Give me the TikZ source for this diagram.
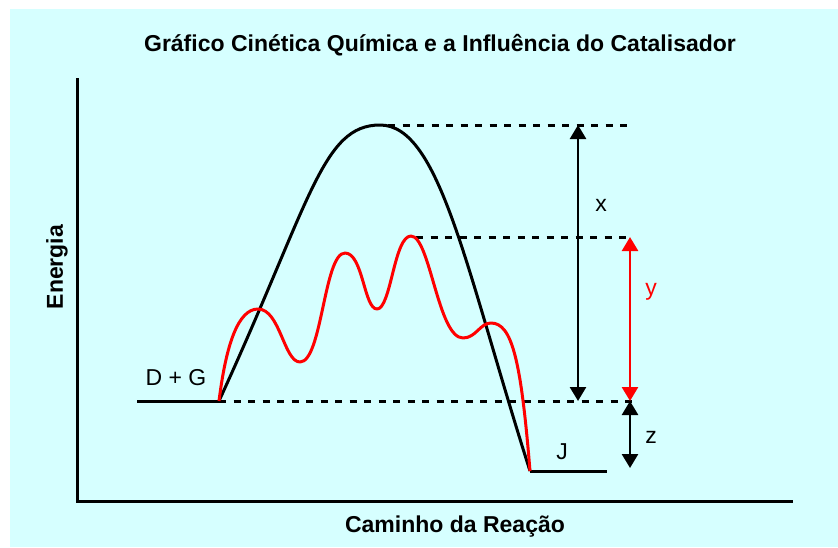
\documentclass[tikz,border=0pt]{standalone}
\usepackage{fontspec}
\setmainfont{Liberation Sans}
\usetikzlibrary{arrows.meta}
\definecolor{bgcyan}{HTML}{D6FFFF}
\definecolor{cred}{HTML}{FF0000}
\begin{document}
\begin{tikzpicture}[x=1pt,y=-1pt,
  curve/.style={line width=3pt, line join=round},
  dashline/.style={line width=3pt, dash pattern=on 7pt off 7.5pt},
  dimarrow/.style={line width=2.6pt, {Triangle[width=16pt,length=14pt]}-{Triangle[width=16pt,length=14pt]}},
  boldlabel/.style={font=\fontsize{23}{26}\selectfont\bfseries, inner sep=0pt},
  label/.style={font=\fontsize{23}{26}\selectfont, inner sep=0pt}]
\useasboundingbox (0,0) rectangle (838,547);
\fill[bgcyan] (10,9) rectangle (838,547);
% axes
\coordinate (ytop) at (77,78);
\coordinate (origin) at (77,501);
\coordinate (xend) at (793,501);
\draw[line width=3pt] (ytop) -- (origin) -- (xend);
% texts
\node[boldlabel] (title) at (440,45) {Gráfico Cinética Química e a Influência do Catalisador};
\node[boldlabel, rotate=90] (energia) at (57,267) {Energia};
\node[boldlabel] (caminho) at (455,527) {Caminho da Reação};
% key points
\coordinate (dgL) at (137,401);
\coordinate (A) at (219,401);
\coordinate (P) at (380,125);
\coordinate (B) at (530,471);
\coordinate (jR) at (607,471);
\coordinate (R3) at (411,236);
% dashed levels
\coordinate (d1) at (637,401);
\coordinate (tL) at (388,125);
\coordinate (tR) at (632,125);
\coordinate (mL) at (416,237);
\coordinate (mR) at (632,237);
\draw[dashline] (A) -- (d1);
\draw[dashline] (tL) -- (tR);
\draw[dashline] (mL) -- (mR);
% reactant / product levels
\draw[curve] (dgL) -- (A);
\draw[curve] (B) -- (jR);
\node[label] (dg) at (176,378) {D + G};
\node[label] (j) at (562,452) {J};
% uncatalysed curve
\draw[curve] (A) .. controls (311,201) and (322,125) .. (P)
  .. controls (440,125) and (466,270) .. (B);
% catalysed curve
\draw[curve, cred] (A) .. controls (226,345) and (238,309) .. (258,309)
  .. controls (280,309) and (284,362) .. (300,362)
  .. controls (322,362) and (324,253) .. (345,253)
  .. controls (363,253) and (364,309) .. (377,309)
  .. controls (391,309) and (394,236) .. (R3)
  .. controls (430,236) and (438,338) .. (463,338)
  .. controls (476,338) and (480,323) .. (491,323)
  .. controls (512,323) and (521,360) .. (B);
% dimension arrows
\coordinate (xa) at (578,125);
\coordinate (xb) at (578,401);
\coordinate (ya) at (630,237);
\coordinate (yb) at (630,401);
\coordinate (za) at (630,401);
\coordinate (zb) at (630,468);
\draw[dimarrow] (xa) -- (xb);
\draw[dimarrow, cred] (ya) -- (yb);
\draw[dimarrow] (za) -- (zb);
\node[label] (xl) at (601,205) {x};
\node[label, text=cred] (yl) at (651,292) {y};
\node[label] (zl) at (651,437) {z};
\end{tikzpicture}
\end{document}
